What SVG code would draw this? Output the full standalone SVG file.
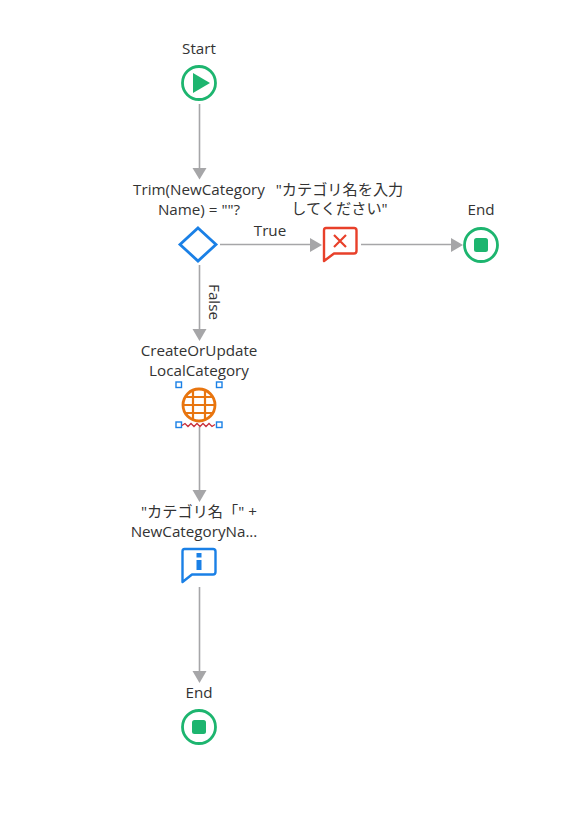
<svg xmlns="http://www.w3.org/2000/svg" width="586" height="834" viewBox="0 0 586 834">
<defs>
<style>
text{font-family:"Open Sans","Noto Sans CJK JP",sans-serif;font-size:15.200px;fill:#333;text-anchor:middle}
.ring{fill:#fff;stroke:#1db56f;stroke-width:2.800}
.fill{fill:#1db56f}
.conn{stroke:#a6a6a8;stroke-width:1.6;fill:none}
.arrow{fill:#a6a6a8}
.handle{fill:#fff;stroke:#1a80e6;stroke-width:1.4}
</style>
</defs>
<rect width="586" height="834" fill="#fff"/>
<g id="connectors">
<line class="conn" x1="199.500" y1="104" x2="199.500" y2="168"/><polygon class="arrow" points="192.500,168 206.500,168 199.500,179.500"/>
<line class="conn" x1="220" y1="244.500" x2="310" y2="244.500"/><polygon class="arrow" points="310,238 310,252 322,245"/>
<line class="conn" x1="361" y1="244.500" x2="451" y2="244.500"/><polygon class="arrow" points="451,238 451,252 463,245"/>
<line class="conn" x1="199.500" y1="265" x2="199.500" y2="329"/><polygon class="arrow" points="192.500,329 206.500,329 199.500,341"/>
<line class="conn" x1="199.500" y1="427" x2="199.500" y2="490"/><polygon class="arrow" points="192.500,490 206.500,490 199.500,502"/>
<line class="conn" x1="199.500" y1="587" x2="199.500" y2="671"/><polygon class="arrow" points="192.500,671 206.500,671 199.500,683"/>
<text x="270" y="236">True</text>
<text transform="translate(209,302) rotate(90)">False</text>
</g>
<g id="start"><text x="199" y="54">Start</text><circle class="ring" cx="199" cy="83" r="16.500"/><polygon class="fill" points="193,73 193,93 210,83"/></g>
<g id="decision"><text x="199" y="195">Trim(NewCategory</text><text x="199" y="215">Name) = ""?</text><polygon points="198,228 216,244.500 198,261 180,244.500" fill="#fff" stroke="#1a80e6" stroke-width="2.800"/></g>
<g id="error"><text x="339.500" y="195">"カテゴリ名を入力</text><text x="339.500" y="214">してください"</text><path d="M326 228H354Q356.500 228 356.500 230.500V251Q356.500 253.500 354 253.500H334L324 261V230.500Q324 228 326 228Z" fill="#fff" stroke="#e8402a" stroke-width="2.400" stroke-linejoin="round"/><path d="M334 235L346 247M346 235L334 247" stroke="#e8402a" stroke-width="2.200" fill="none"/></g>
<g id="end1"><text x="481" y="215">End</text><circle class="ring" cx="481" cy="245" r="16.500"/><rect class="fill" x="474" y="238" width="14" height="14" rx="2.500"/></g>
<g id="server"><text x="199" y="356">CreateOrUpdate</text><text x="199" y="376">LocalCategory</text><circle cx="199" cy="405" r="16" fill="#fff" stroke="#e8750f" stroke-width="2.800"/><path d="M186 397H212M183 405H215M186 413H212M193 390V420M205 390V420" stroke="#e8750f" stroke-width="2.200" fill="none"/><rect class="handle" x="176" y="382" width="5.500" height="5.500"/><rect class="handle" x="216.500" y="382" width="5.500" height="5.500"/><rect class="handle" x="176" y="422" width="5.500" height="5.500"/><rect class="handle" x="216.500" y="422" width="5.500" height="5.500"/><path d="M182 425.500l3-2 3 3 3-3 3 3 3-3 3 3 3-3 3 3 3-3 3 3 3-2" stroke="#c8303a" stroke-width="1.300" fill="none"/></g>
<g id="message"><text x="199" y="517">"カテゴリ名「" +</text><text x="194" y="537">NewCategoryNa...</text><path d="M184.500 549H213Q215.500 549 215.500 551.500V572Q215.500 574.500 213 574.500H192L182.500 582V551.500Q182.500 549 184.500 549Z" fill="#fff" stroke="#1a80e6" stroke-width="2.400" stroke-linejoin="round"/><rect x="196.500" y="553" width="5" height="4.500" fill="#1a80e6"/><rect x="196.500" y="560" width="5" height="10" fill="#1a80e6"/></g>
<g id="end2"><text x="199" y="698">End</text><circle class="ring" cx="199" cy="727" r="16.500"/><rect class="fill" x="192" y="720" width="14" height="14" rx="2.500"/></g>
</svg>
